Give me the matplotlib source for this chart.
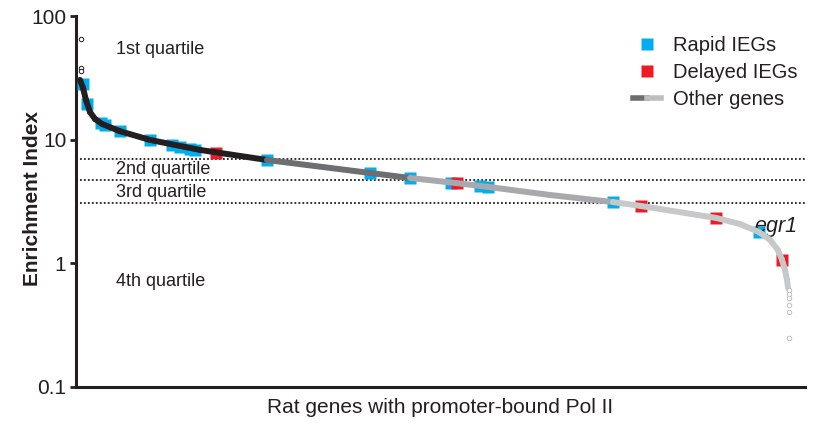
import numpy as np
import matplotlib.pyplot as plt
from matplotlib.collections import LineCollection
from matplotlib.lines import Line2D
from matplotlib.legend_handler import HandlerTuple

plt.rcParams['font.family'] = ['Liberation Sans', 'DejaVu Sans']
INK = '#231f20'
BLUE = '#00aeef'
RED = '#ed1c24'

# ranked genes: position along the x axis (rank out of 1000) and enrichment index
curve_rank = [5.5, 9.6, 13.7, 19.2, 26.1, 35.7, 60.4, 101.5, 170.1, 262.0, 403.3, 458.2, 519.9,
              565.2, 650.2, 736.6, 775.0, 877.9, 910.8, 936.9, 951.9, 962.9, 968.4, 972.6, 975.3, 976.7]
curve_ei = [30.4, 26.2, 20.9, 16.7, 14.7, 13.4, 11.7, 9.95, 8.26, 6.85, 5.38, 4.90, 4.47,
            4.15, 3.57, 3.13, 2.91, 2.33, 2.08, 1.79, 1.55, 1.28, 1.07, 0.885, 0.735, 0.632]

# single outlier genes at both ends of the ranking
top_rank = [6.9, 6.9, 6.9]
top_ei = [65.2, 38.0, 35.9]
tail_rank = [977.9, 977.9, 977.9, 977.9, 977.9, 977.9]
tail_ei = [0.61, 0.566, 0.525, 0.461, 0.405, 0.249]

rapid_rank = [9.6, 15.1, 34.3, 39.8, 60.4, 101.5, 131.7, 142.7, 156.4, 163.2, 262.0, 403.3,
              458.2, 514.4, 554.2, 565.2, 736.6, 936.9]
rapid_ei = [28.2, 19.4, 13.6, 13.1, 11.7, 9.95, 9.06, 8.73, 8.41, 8.26, 6.85, 5.38,
            4.90, 4.47, 4.22, 4.15, 3.13, 1.79]
delayed_rank = [192.0, 522.6, 775.0, 877.9, 968.4]
delayed_ei = [7.80, 4.47, 2.91, 2.33, 1.07]

quartile_cuts = [7.02, 4.72, 3.06]
quartile_names = ['1st quartile', '2nd quartile', '3rd quartile', '4th quartile']
quartile_label_y = [53.1, 5.69, 3.71, 0.708]

# grey shading of the curve by rank band
band_edges = [0, 252, 486, 728, 1000]
band_colors = [INK, '#6d6e70', '#a7a9ac', '#c7c8ca']

fig = plt.figure(figsize=(8.14, 4.25), dpi=100)
ax = fig.add_axes([76 / 814, 38 / 425, 729 / 814, 371 / 425])
ax.set_yscale('log')
ax.set_xlim(0, 1000)
ax.set_ylim(0.1, 100)

for v in quartile_cuts:
    ax.axhline(v, color=INK, lw=1.3, ls=(0, (1, 1.2)), zorder=1)

ax.plot(rapid_rank, rapid_ei, 's', color=BLUE, ms=9, mec='none', zorder=3)
ax.plot(delayed_rank, delayed_ei, 's', color=RED, ms=9, mec='none', zorder=3)

pts = np.column_stack([curve_rank, curve_ei])
segs = np.stack([pts[:-1], pts[1:]], axis=1)
mids = (pts[:-1, 0] + pts[1:, 0]) / 2
seg_colors = [band_colors[min(np.searchsorted(band_edges, m) - 1, 3)] for m in mids]
lc = LineCollection(segs, colors=seg_colors, linewidths=4.3, capstyle='round', joinstyle='round', zorder=4)
ax.add_collection(lc)

ax.plot(top_rank, top_ei, 'o', mfc='white', mec=INK, ms=3.2, mew=0.7, zorder=5)
ax.plot(tail_rank, tail_ei, 'o', mfc='white', mec='#bcbec0', ms=3.2, mew=0.7, zorder=5)

for name, y in zip(quartile_names, quartile_label_y):
    ax.text(54.9, y, name, fontsize=13, color=INK, va='center', ha='left')
ax.text(931, 1.97, 'egr1', fontsize=15.5, style='italic', color=INK, va='center', ha='left')

for s in ['top', 'right']:
    ax.spines[s].set_visible(False)
for s in ['left', 'bottom']:
    ax.spines[s].set_linewidth(2.2)
    ax.spines[s].set_color(INK)

ax.set_xticks([])
ax.set_yticks([0.1, 1, 10, 100])
ax.set_yticklabels(['0.1', '1', '10', '100'])
ax.yaxis.set_minor_locator(plt.NullLocator())
ax.tick_params(axis='y', length=4, width=2, color=INK, labelsize=15, labelcolor=INK, pad=3)

ax.set_xlabel('Rat genes with promoter-bound Pol II', fontsize=15, color=INK, labelpad=8)
ax.set_ylabel('Enrichment Index', fontsize=15, fontweight='bold', color=INK)
ax.yaxis.set_label_coords(-0.047, 0.508)

h_rapid = Line2D([], [], marker='s', ls='none', color=BLUE, ms=9, mec='none')
h_delayed = Line2D([], [], marker='s', ls='none', color=RED, ms=9, mec='none')
h_other = (Line2D([], [], color='#6d6e70', lw=4), Line2D([], [], color='#bcbec0', lw=4))
ax.legend([h_rapid, h_delayed, h_other], ['Rapid IEGs', 'Delayed IEGs', 'Other genes'],
          handler_map={tuple: HandlerTuple(ndivide=None, pad=0)},
          loc='upper left', bbox_to_anchor=(0.764, 0.945), frameon=False, fontsize=14.5,
          handlelength=1.4, handletextpad=0.6, labelspacing=0.39, borderpad=0, borderaxespad=0,
          labelcolor=INK)

fig.savefig('out.png', dpi=100)
